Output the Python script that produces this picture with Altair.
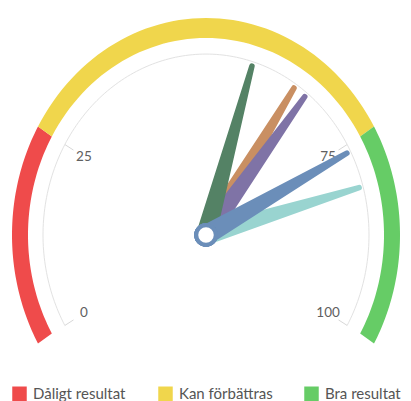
import altair as alt
import pandas as pd

# ---- data ----
band_names = ["Dåligt resultat", "Kan förbättras", "Bra resultat"]
band_from = [0, 25, 75]
band_to = [25, 75, 100]
band_colors = ["#ef4b4b", "#f0d64c", "#66cc66"]

needle_names = ["Serie 5", "Serie 2", "Serie 3", "Serie 1", "Serie 4"]
needle_values = [81, 64, 66, 57, 76]
needle_colors = ["#99d4d0", "#c98f62", "#7f73a6", "#548265", "#6b8eb9"]

tick_values = [0, 25, 75, 100]
tick_labels = ["0", "25", "75", "100"]

# ---- geometry (styling) ----
K = 1.11              # vertical stretch of the dial
TH = "(datum.v / 100 * 240 - 120) * PI / 180"
N = 60

xs = alt.Scale(domain=[-198, 197], nice=False, zero=False)
ys = alt.Scale(domain=[-166, 227], nice=False, zero=False)
X = alt.X("x:Q", scale=xs, axis=None)
Y = alt.Y("y:Q", scale=ys, axis=None)

band_df = pd.DataFrame({"band": band_names, "start": band_from, "end": band_to, "color": band_colors})
needle_df = pd.DataFrame({"name": needle_names, "value": needle_values, "color": needle_colors})
tick_df = pd.DataFrame({"v": tick_values, "label": tick_labels})

bands = alt.Chart(band_df).transform_calculate(
    i=f"sequence(0, {2 * N + 2})"
).transform_flatten(["i"]).transform_calculate(
    outer=f"datum.i <= {N}",
    v=f"datum.i <= {N} ? datum.start + (datum.end - datum.start) * datum.i / {N} : "
      f"datum.end - (datum.end - datum.start) * (datum.i - {N + 1}) / {N}",
).transform_calculate(th=TH).transform_calculate(
    x="(datum.outer ? 194 : 178) * sin(datum.th)",
    y="(datum.outer ? 217 : 197) * cos(datum.th)",
).mark_line(filled=True, interpolate="linear").encode(
    x=X, y=Y,
    order=alt.Order("i:Q"),
    color=alt.Color(
        "band:N",
        scale=alt.Scale(domain=band_names, range=band_colors),
        legend=alt.Legend(
            title=None, orient="none", legendX=4, legendY=378, direction="horizontal",
            columns=3, gridAlign="all", columnPadding=31, padding=0,
            symbolType="square", symbolSize=210, symbolStrokeWidth=0, symbolOpacity=1,
            labelFont="Lato", labelFontSize=15, labelColor="#555555", labelOffset=6,
            labelLimit=200,
        ),
    ),
)

ring = alt.Chart(alt.sequence(0, 100.5, 0.5, as_="v")).transform_calculate(th=TH).transform_calculate(
    x="163 * sin(datum.th)", y=f"163 * {K} * cos(datum.th)"
).mark_line(color="#e2e2e2", strokeWidth=1).encode(x=X, y=Y, order=alt.Order("v:Q"))

ticks = alt.Chart(tick_df).transform_calculate(th=TH).transform_calculate(
    x="163 * sin(datum.th)", y=f"163 * {K} * cos(datum.th)",
    x2="153 * sin(datum.th)", y2=f"153 * {K} * cos(datum.th)",
).mark_rule(color="#d8d8d8", strokeWidth=1).encode(x=X, y=Y, x2="x2:Q", y2="y2:Q")

labels = alt.Chart(tick_df).transform_calculate(th=TH).transform_calculate(
    x="141 * sin(datum.th)", y=f"141 * {K} * cos(datum.th)"
).mark_text(font="Lato", fontSize=13.5, color="#606060", align="center", baseline="middle").encode(
    x=X, y=Y, text="label:N"
)

layers = [bands, ring, ticks, labels]
for name in needle_names:
    nd = alt.Chart(needle_df).transform_filter(alt.datum.name == name).transform_calculate(
        p="[0, 1]"
    ).transform_flatten(["p"]).transform_calculate(v="datum.value").transform_calculate(
        th=TH
    ).transform_calculate(
        x="159 * datum.p * sin(datum.th)",
        y=f"159 * {K} * datum.p * cos(datum.th)",
        w="20 - 14.5 * datum.p",
    ).mark_trail().encode(
        x=X, y=Y, order=alt.Order("p:Q"),
        size=alt.Size("w:Q", scale=None, legend=None),
        color=alt.Color("color:N", scale=None, legend=None),
    )
    layers.append(nd)

pivot = alt.Chart(needle_df).mark_point(
    shape="circle", filled=False, fill="white", fillOpacity=1, stroke="#6b8eb9",
    strokeWidth=4, size=380, opacity=1
).encode(x=alt.datum(0, scale=xs, axis=None), y=alt.datum(0, scale=ys, axis=None))
layers.append(pivot)

chart = alt.layer(*layers).properties(
    width=395, height=393, autosize=alt.AutoSizeParams(type="none"), padding=0,
    background="white",
).configure_view(stroke=None, strokeWidth=0)

chart.save("out.html", embed_options={"renderer": "svg", "actions": False})
